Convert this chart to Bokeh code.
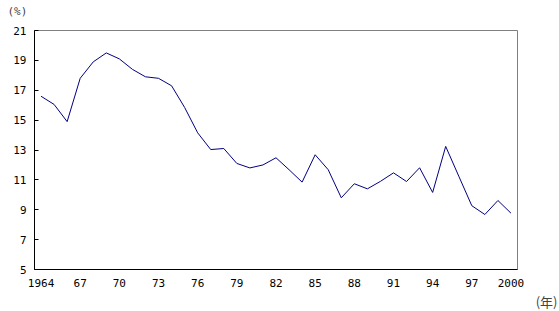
from bokeh.plotting import figure
from bokeh.models import FixedTicker, Range1d, Title
from bokeh.embed import file_html
from bokeh.resources import INLINE

years = list(range(1964, 2001))
values = [16.6, 16.05, 14.9, 17.8, 18.9, 19.5, 19.1, 18.4, 17.9, 17.8, 17.3, 15.85,
          14.15, 13.03, 13.1, 12.1, 11.8, 12.0, 12.48, 11.68, 10.85, 12.68, 11.68, 9.8,
          10.74, 10.4, 10.9, 11.47, 10.89, 11.81, 10.16, 13.24, 11.25, 9.27, 8.68, 9.62, 8.77]
x_ticks = [1964, 1967, 1970, 1973, 1976, 1979, 1982, 1985, 1988, 1991, 1994, 1997, 2000]
x_tick_labels = ["1964", "67", "70", "73", "76", "79", "82", "85", "88", "91", "94", "97", "2000"]
y_ticks = [5, 7, 9, 11, 13, 15, 17, 19, 21]
y_unit = "(%)"
x_unit = "(年)"

p = figure(width=559, height=311, output_backend="svg", toolbar_location=None,
           x_range=Range1d(1963.5, 2000.5), y_range=Range1d(5, 21),
           min_border_left=34, min_border_right=42, min_border_top=30, min_border_bottom=42)
p.background_fill_color = "white"
p.border_fill_color = "white"
p.outline_line_color = "#808080"
p.outline_line_width = 1
p.xgrid.visible = False
p.ygrid.visible = False

p.line(years, values, line_color="#000080", line_width=1)

font = "DejaVu Sans Mono"
p.xaxis.ticker = FixedTicker(ticks=x_ticks)
p.xaxis.major_label_overrides = {t: l for t, l in zip(x_ticks, x_tick_labels)}
p.xaxis.major_tick_in = 0
p.xaxis.major_tick_out = 0
p.xaxis.minor_tick_in = 0
p.xaxis.minor_tick_out = 0
p.xaxis.major_label_standoff = 9
p.xaxis.axis_line_color = "black"

p.yaxis.ticker = FixedTicker(ticks=y_ticks)
p.yaxis.major_tick_in = 4
p.yaxis.major_tick_out = 0
p.yaxis.minor_tick_in = 0
p.yaxis.minor_tick_out = 0
p.yaxis.major_label_standoff = 8
p.yaxis.axis_line_color = "black"
p.yaxis.major_tick_line_color = "black"

for ax in (p.xaxis, p.yaxis):
    ax.major_label_text_font = font
    ax.major_label_text_font_size = "11px"
    ax.major_label_text_color = "black"

p.add_layout(Title(text=" ", align="left", text_font_size="8px", standoff=0), "above")
p.add_layout(Title(text=y_unit, align="left", offset=-27, text_font="DejaVu Sans Mono",
                   text_font_size="11px", text_font_style="normal", standoff=0,
                   vertical_align="top"), "above")
p.add_layout(Title(text=x_unit, align="right", offset=-40, text_font="Noto Sans CJK JP",
                   text_font_size="13px", text_font_style="normal", standoff=0,
                   vertical_align="bottom"), "below")

open("out.html", "w").write(file_html(p, INLINE))
